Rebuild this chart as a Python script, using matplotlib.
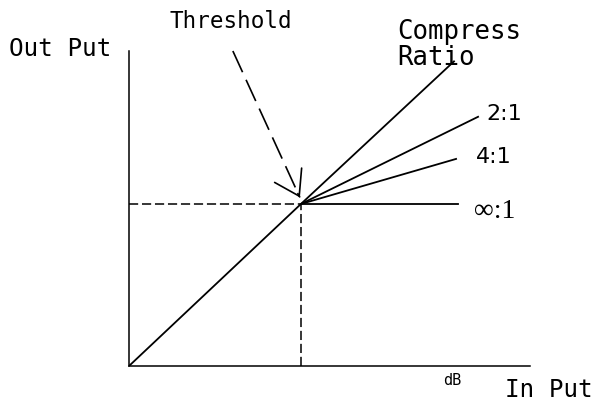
import matplotlib.pyplot as plt

# input / output levels in dB
threshold = 50
below_in = [0, 50]
below_out = [0, 50]

# end points of each compression line above threshold
ratio_names = ["1:1", "2:1", "4:1", "∞:1"]
end_in = [94.5, 101.5, 95.1, 95.6]
end_out = [94.0, 76.9, 63.9, 50.0]

# label positions for the ratios (top one is unlabeled)
label_in = [None, 103.8, 100.9, 100.3]
label_out = [None, 78.1, 64.8, 48.1]

x_max = 116.6
y_max = 97.2

fig = plt.figure(figsize=(5.94, 4.02), dpi=100)
ax = fig.add_axes([129/594, 35/402, 401/594, 315/402])
ax.set_xlim(0, x_max)
ax.set_ylim(0, y_max)
for s in ["top", "right"]:
    ax.spines[s].set_visible(False)
for s in ["left", "bottom"]:
    ax.spines[s].set_linewidth(1.1)
ax.set_xticks([])
ax.set_yticks([])

lw = 1.3
ax.plot(below_in, below_out, "k-", lw=lw, solid_capstyle="butt")
for i in range(len(ratio_names)):
    ax.plot([threshold, end_in[i]], [threshold, end_out[i]], "k-", lw=lw)

# dashed guide lines to the threshold
ax.plot([0, threshold], [threshold, threshold], color="k", lw=1.1, ls=(0, (6, 2.5)))
ax.plot([threshold, threshold], [0, threshold], color="k", lw=1.1, ls=(0, (6, 2.5)))

# threshold arrow
arrow_start = (30.2, 97.2)
arrow_tip = (49.7, 52.0)
ax.plot([arrow_start[0], arrow_tip[0]], [arrow_start[1], arrow_tip[1]],
        color="k", lw=1.2, ls=(0, (14, 5)), clip_on=False)
ax.annotate("", xy=arrow_tip,
            xytext=(arrow_tip[0] - 0.6, arrow_tip[1] + 1.2),
            arrowprops=dict(arrowstyle="->,head_length=1.7,head_width=1.1",
                            lw=1.2, color="k", shrinkA=0, shrinkB=0))

mono = "DejaVu Sans Mono"
ax.text(-34.9, 98.1, "Out Put", family=mono, fontsize=17.5, ha="left", va="center")
ax.text(11.9, 106.5, "Threshold", family=mono, fontsize=16.3, ha="left", va="center")
ax.text(77.9, 103.5, "Compress", family=mono, fontsize=18.5, ha="left", va="center")
ax.text(77.9, 95.4, "Ratio", family=mono, fontsize=18.5, ha="left", va="center")
ax.text(109.3, -7.1, "In Put", family=mono, fontsize=17.5, ha="left", va="center")
ax.text(91.3, -4.3, "dB", family=mono, fontsize=11, ha="left", va="center")

for i in range(1, len(ratio_names)):
    if ratio_names[i].startswith("∞"):
        ax.text(label_in[i], label_out[i], ratio_names[i], fontsize=20,
                family=["Liberation Serif", "DejaVu Serif"], ha="left", va="center")
    else:
        ax.text(label_in[i], label_out[i], ratio_names[i], fontsize=16,
                family="DejaVu Sans", ha="left", va="center")

fig.savefig("out.png", dpi=100)
